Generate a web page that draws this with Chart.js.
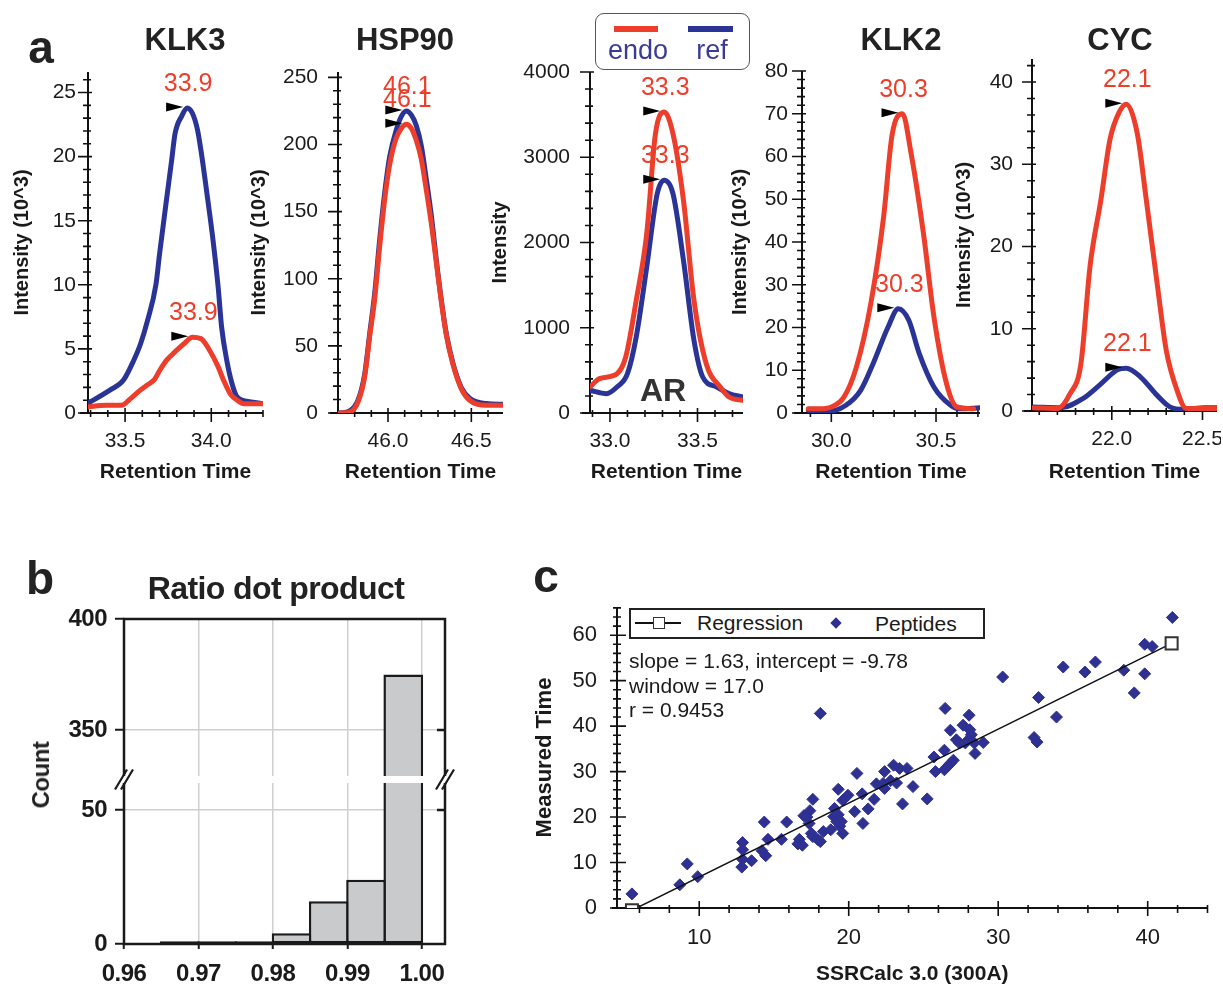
<!DOCTYPE html>
<html>
<head>
<meta charset="utf-8">
<script src="https://cdn.jsdelivr.net/npm/chart.js@4.4.1/dist/chart.umd.min.js"></script>
<style>
  body { margin: 0; background: #fff; width: 1223px; height: 987px; position: relative; overflow: hidden;
         font-family: 'Liberation Sans', Arial, Helvetica, sans-serif; color: #1a1a1a; }
  canvas { position: absolute; }
  .t { position: absolute; transform: translate(-50%, -50%); white-space: nowrap; line-height: 1; }
  .l { position: absolute; transform: translateY(-50%); white-space: nowrap; line-height: 1; }
  .box { position: absolute; box-sizing: border-box; }
</style>
</head>
<body>
<script>
const FONT = "'Liberation Sans', Arial, Helvetica, sans-serif";
const RED = 'rgb(236, 62, 42)';
const BLUE = 'rgb(42, 52, 150)';
const PEP = 'rgb(46, 49, 146)';
Chart.defaults.font.family = FONT;
Chart.defaults.color = '#1a1a1a';
Chart.defaults.animation = false;

// ---- panel a: extracted ion chromatograms (intensity vs retention time) ----
const seriesNames = ['endo', 'ref'];

const klk3EndoTime = [33.28, 33.39, 33.48, 33.53, 33.59, 33.63, 33.67, 33.70, 33.74, 33.80, 33.85, 33.89, 33.94, 33.99, 34.04, 34.07, 34.11, 34.15, 34.19, 34.31];
const klk3Endo     = [0.47, 0.6, 0.6, 1.1, 1.8, 2.2, 2.6, 3.3, 4.1, 4.9, 5.5, 5.9, 5.8, 4.9, 3.6, 2.6, 1.5, 1.0, 0.73, 0.73];
const klk3RefTime  = [33.28, 33.41, 33.49, 33.55, 33.59, 33.63, 33.68, 33.70, 33.74, 33.77, 33.79, 33.83, 33.86, 33.89, 33.92, 33.94, 33.98, 34.01, 34.04, 34.06, 34.09, 34.12, 34.15, 34.23, 34.31];
const klk3Ref      = [0.73, 1.77, 2.55, 4.1, 5.4, 7.2, 10.1, 12.4, 16.6, 19.7, 21.8, 23.2, 23.8, 23.4, 22.1, 20.5, 16.6, 13.5, 9.8, 6.7, 4.1, 2.3, 1.25, 0.86, 0.73];

const hspTime = [45.71, 45.77, 45.82, 45.86, 45.89, 45.92, 45.95, 45.98, 46.01, 46.05, 46.08, 46.11, 46.14, 46.17, 46.20, 46.23, 46.26, 46.29, 46.32, 46.35, 46.39, 46.44, 46.49, 46.59, 46.69];
const hspEndo = [0, 0.7, 8.2, 27, 57, 85, 124, 159, 185, 205, 212, 215, 212, 203, 189, 166, 141, 112, 83, 58, 36, 18, 9.5, 5.7, 5.7];
const hspRef  = [0, 1.5, 9.5, 29, 59, 89, 129, 164, 191, 211, 221, 225, 222, 214, 199, 174, 147, 114, 84, 59, 37, 19, 11, 7, 6.5];

const arEndoTime = [32.886, 32.94, 33.04, 33.09, 33.15, 33.21, 33.26, 33.31, 33.36, 33.42, 33.48, 33.55, 33.63, 33.68, 33.76];
const arEndo     = [305, 403, 461, 657, 1321, 2103, 3276, 3530, 3276, 2494, 1321, 578, 305, 188, 149];
const arRefTime  = [32.886, 32.98, 33.04, 33.10, 33.15, 33.21, 33.27, 33.31, 33.36, 33.42, 33.48, 33.53, 33.61, 33.68, 33.76];
const arRef      = [266, 227, 305, 461, 891, 1712, 2572, 2729, 2572, 1790, 852, 422, 305, 227, 188];

const klk2EndoTime = [29.89, 29.95, 30.00, 30.06, 30.12, 30.19, 30.25, 30.29, 30.34, 30.38, 30.44, 30.49, 30.55, 30.60, 30.68];
const klk2Endo     = [1, 1, 1.4, 3.7, 10.8, 26, 46, 65, 70, 61, 42, 22.5, 6.9, 1.4, 1];
const klk2RefTime  = [29.89, 30.00, 30.07, 30.14, 30.20, 30.27, 30.32, 30.37, 30.42, 30.49, 30.57, 30.61, 30.71];
const klk2Ref      = [0.6, 0.5, 1.8, 5.3, 11.6, 20, 24.4, 21.7, 13.9, 6.1, 1.8, 1, 1.2];

const cycEndoTime = [21.57, 21.70, 21.77, 21.83, 21.88, 21.94, 21.99, 22.04, 22.08, 22.14, 22.19, 22.25, 22.30, 22.36, 22.41, 22.58];
const cycEndo     = [0.4, 0.3, 2.1, 5.8, 17.6, 25.7, 33, 36.3, 37.3, 33.8, 25.7, 15.5, 7.4, 2.5, 0.3, 0.3];
const cycRefTime  = [21.57, 21.72, 21.84, 21.94, 22.03, 22.08, 22.16, 22.25, 22.32, 22.40, 22.51, 22.58];
const cycRef      = [0.5, 0.4, 1.5, 3.3, 5.0, 5.2, 4.1, 1.9, 0.5, 0.2, 0.4, 0.4];

// tick labels
const klk3XTicks = [33.5, 34.0], klk3YTicks = [0, 5, 10, 15, 20, 25];
const hspXTicks = [46.0, 46.5],  hspYTicks = [0, 50, 100, 150, 200, 250];
const arXTicks = [33.0, 33.5],   arYTicks = [0, 1000, 2000, 3000, 4000];
const klk2XTicks = [30.0, 30.5], klk2YTicks = [0, 10, 20, 30, 40, 50, 60, 70, 80];
const cycXTicks = [22.0, 22.5],  cycYTicks = [0, 10, 20, 30, 40];

// ---- panel b: histogram of ratio dot product ----
const histBinCenters = [0.9675, 0.9725, 0.9775, 0.9825, 0.9875, 0.9925, 0.9975];
const histCounts = [1, 1, 1, 4, 16, 24, 375];
const histXTicks = [0.96, 0.97, 0.98, 0.99, 1.00];
const histUpperTicks = [350, 400];
const histLowerTicks = [0, 50];

// ---- panel c: measured vs predicted retention ----
const peptideCalc = [5.5, 8.7, 9.2, 9.9, 12.9, 12.9, 12.9, 12.85, 13.5, 14.35,
  14.6, 14.2, 14.45, 15.5, 15.85, 16.7, 16.6, 16.9, 17.6, 17.4,
  17.2, 17.35, 17.6, 17.95, 18.3, 18.1, 18.1, 18.8, 19.3, 19.6,
  19.95, 19.05, 19.0, 19.3, 19.5, 19.2, 19.6, 20.4, 20.55, 20.9,
  20.95, 21.3, 21.7, 21.85, 22.3, 22.4, 22.4, 22.8, 23.2, 23.0,
  23.4, 23.9, 23.6, 24.3, 25.25, 25.7, 25.8, 26.45, 26.4, 26.4,
  26.6, 26.8, 27.0, 26.8, 27.2, 27.4, 27.65, 28.05, 28.1, 28.2,
  28.0, 27.8, 28.4, 28.45, 29.0, 30.3, 32.4, 32.6, 32.7, 33.9,
  34.35, 35.8, 36.5, 38.4, 39.1, 39.8, 39.8, 40.3, 41.65,
  17.0, 17.5, 19.4];
const peptideMeasured = [3.1, 5.1, 9.7, 6.9, 14.4, 12.8, 10.7, 9.0, 10.4, 18.9,
  15.1, 12.6, 11.5, 15.1, 18.9, 15.1, 14.1, 13.8, 23.9, 21.4,
  20.0, 18.6, 15.7, 15.0, 16.8, 14.6, 42.8, 17.2, 26.1, 23.7,
  24.8, 21.9, 20.1, 20.5, 19.0, 19.0, 16.4, 21.2, 29.6, 25.1,
  18.6, 21.8, 23.9, 27.3, 27.4, 26.3, 30.0, 28.0, 27.5, 31.4,
  30.7, 30.7, 22.9, 26.7, 24.0, 33.2, 30.0, 43.9, 34.7, 30.4,
  31.1, 31.8, 32.5, 39.1, 37.0, 36.3, 40.2, 42.4, 39.2, 38.1,
  37.0, 36.3, 36.3, 34.0, 36.4, 50.8, 37.5, 36.5, 46.3, 42.0,
  53.0, 51.9, 54.1, 52.3, 47.3, 51.5, 58.0, 57.5, 63.9,
  20.3, 16.4, 18.0];
const regressionX = [5.5, 41.6];
const regressionY = [-0.5, 58.2];
const regStats = ['slope = 1.63, intercept = -9.78', 'window = 17.0', 'r = 0.9453'];
const scatterXTicks = [10, 20, 30, 40];
const scatterYTicks = [0, 10, 20, 30, 40, 50, 60];

// ---------- helpers ----------
const pts = (xs, ys) => xs.map((x, i) => ({ x, y: ys[i] }));

function addCanvas(left, top, width, height) {
  const c = document.createElement('canvas');
  c.width = width; c.height = height;
  c.style.left = left + 'px'; c.style.top = top + 'px';
  c.style.width = width + 'px'; c.style.height = height + 'px';
  document.body.appendChild(c);
  return c;
}

function addText(text, x, y, css, cls = 't') {
  const d = document.createElement('div');
  d.className = cls;
  d.textContent = text;
  d.style.cssText = `left:${x}px;top:${y}px;${css}`;
  document.body.appendChild(d);
  return d;
}

function addBox(x, y, w, h, css) {
  const d = document.createElement('div');
  d.className = 'box';
  d.style.cssText = `left:${x}px;top:${y}px;width:${w}px;height:${h}px;${css}`;
  document.body.appendChild(d);
}

// axis lines with major/minor tick marks crossing the axis
function axisPlugin(o) {
  return {
    id: 'axisLines',
    beforeDatasetsDraw(chart) {
      const { ctx, chartArea: a, scales: { x, y } } = chart;
      const each = (from, to, s, f) => { const n = Math.round((to - from) / s); for (let i = 0; i <= n; i++) f(from + i * s); };
      const isMajor = (list, v) => list.some(m => Math.abs(m - v) < 1e-6);
      ctx.save();
      ctx.strokeStyle = '#111';
      ctx.lineWidth = 2;
      ctx.beginPath();
      ctx.moveTo(a.left, a.bottom); ctx.lineTo(a.left, a.top);
      ctx.moveTo(a.left - o.xExtend, a.bottom); ctx.lineTo(a.right, a.bottom);
      ctx.stroke();
      ctx.lineWidth = 1.6;
      ctx.beginPath();
      each(o.yFrom, o.yTo, o.yStep, v => {
        const [l, r] = isMajor(o.yMajor, v) ? o.yMajLen : o.yMinLen;
        const py = y.getPixelForValue(v);
        ctx.moveTo(a.left - l, py); ctx.lineTo(a.left + r, py);
      });
      each(o.xFrom, o.xTo, o.xStep, v => {
        const [u, d] = isMajor(o.xMajor, v) ? o.xMajLen : o.xMinLen;
        const px = x.getPixelForValue(v);
        ctx.moveTo(px, a.bottom - u); ctx.lineTo(px, a.bottom + d);
      });
      ctx.stroke();
      ctx.restore();
    }
  };
}

// black arrowhead + red retention-time label at each trace apex
const peakPlugin = {
  id: 'peaks',
  afterDatasetsDraw(chart) {
    const { ctx, scales: { x, y } } = chart;
    chart.data.datasets.forEach(ds => {
      let best = ds.data[0];
      ds.data.forEach(p => { if (p.y > best.y) best = p; });
      const px = x.getPixelForValue(best.x), py = y.getPixelForValue(best.y);
      ctx.save();
      ctx.fillStyle = '#000';
      ctx.beginPath();
      ctx.moveTo(px - 4, py - 1);
      ctx.lineTo(px - 21, py - 5.5);
      ctx.lineTo(px - 21, py + 3.5);
      ctx.closePath();
      ctx.fill();
      ctx.fillStyle = RED;
      ctx.font = '25px ' + FONT;
      ctx.textAlign = 'center';
      ctx.textBaseline = 'middle';
      ctx.fillText(best.x.toFixed(1), px + 1, py - 24);
      ctx.restore();
    });
  }
};

// ---------- panel a ----------
const panelA = [
  { title: 'KLK3', left: 10, right: 267, area: [88, 72, 263, 413], xMin: 33.285, xMax: 34.30, yMax: 26.6,
    xTicks: klk3XTicks, yTicks: klk3YTicks, xFrom: 33.3, xTo: 34.3, yStep: 1, yTo: 26, yPad: 12,
    yTitle: 'Intensity (10^3)', endoT: klk3EndoTime, endo: klk3Endo, refT: klk3RefTime, ref: klk3Ref },
  { title: 'HSP90', left: 247, right: 507, area: [338, 72, 503, 413], xMin: 45.70, xMax: 46.69, yMax: 254,
    xTicks: hspXTicks, yTicks: hspYTicks, xFrom: 45.8, xTo: 46.6, yStep: 10, yTo: 250, yPad: 20,
    yTitle: 'Intensity (10^3)', endoT: hspTime, endo: hspEndo, refT: hspTime, ref: hspRef },
  { title: null, left: 488, right: 747, area: [590, 72, 743, 413], xMin: 32.886, xMax: 33.76, yMax: 4000,
    xTicks: arXTicks, yTicks: arYTicks, xFrom: 32.9, xTo: 33.7, yStep: 200, yTo: 4000, yPad: 20,
    yTitle: 'Intensity', endoT: arEndoTime, endo: arEndo, refT: arRefTime, ref: arRef },
  { title: 'KLK2', left: 728, right: 984, area: [802, 71, 980, 413], xMin: 29.86, xMax: 30.71, yMax: 80,
    xTicks: klk2XTicks, yTicks: klk2YTicks, xFrom: 29.9, xTo: 30.7, yStep: 2, yTo: 80, yPad: 14,
    yTitle: 'Intensity (10^3)', endoT: klk2EndoTime, endo: klk2Endo, refT: klk2RefTime, ref: klk2Ref },
  { title: 'CYC', left: 952, right: 1221, area: [1032, 59, 1217, 411], xMin: 21.56, xMax: 22.58, yMax: 42.8,
    xTicks: cycXTicks, yTicks: cycYTicks, xFrom: 21.6, xTo: 22.5, yStep: 2, yTo: 42, yPad: 19,
    yTitle: 'Intensity (10^3)', endoT: cycEndoTime, endo: cycEndo, refT: cycRefTime, ref: cycRef }
];
const titleCenters = { KLK3: 185, HSP90: 405, KLK2: 901, CYC: 1120 };

const TOP = 40, BOTTOM = 485;
panelA.forEach(p => {
  const [aL, aT, aR, aB] = p.area;
  const cv = addCanvas(p.left, TOP, p.right - p.left, BOTTOM - TOP);
  const lineDs = (label, data, color) => ({
    label, data, borderColor: color, borderWidth: 5, pointRadius: 0, fill: false,
    cubicInterpolationMode: 'monotone', borderJoinStyle: 'round', borderCapStyle: 'round'
  });
  new Chart(cv, {
    type: 'line',
    data: { datasets: [
      lineDs(seriesNames[0], pts(p.endoT, p.endo), RED),
      lineDs(seriesNames[1], pts(p.refT, p.ref), BLUE)
    ] },
    options: {
      responsive: false, devicePixelRatio: 1, events: [],
      layout: { padding: { top: aT - TOP, right: p.right - aR, bottom: 0, left: 0 } },
      plugins: { legend: { display: false }, tooltip: { enabled: false } },
      scales: {
        x: {
          type: 'linear', min: p.xMin, max: p.xMax,
          afterBuildTicks: s => { s.ticks = p.xTicks.map(v => ({ value: v })); },
          afterFit: s => { s.height = BOTTOM - aB; s.paddingLeft = 0; s.paddingRight = 0; },
          grid: { display: false, drawTicks: false }, border: { display: false },
          ticks: { autoSkip: false, maxRotation: 0, padding: 16, font: { size: 21 }, callback: v => v.toFixed(1) },
          title: { display: true, text: 'Retention Time', font: { size: 21, weight: 'bold' }, padding: 0 }
        },
        y: {
          min: 0, max: p.yMax,
          afterBuildTicks: s => { s.ticks = p.yTicks.map(v => ({ value: v })); },
          afterFit: s => { s.width = aL - p.left; s.paddingTop = 0; s.paddingBottom = 0; },
          grid: { display: false, drawTicks: false }, border: { display: false },
          ticks: { autoSkip: false, padding: p.yPad, font: { size: 21 }, callback: v => String(v) },
          title: { display: true, text: p.yTitle, font: { size: 20, weight: 'bold' }, padding: 0 }
        }
      }
    },
    plugins: [axisPlugin({
      xExtend: 8, yFrom: 0, yTo: p.yTo, yStep: p.yStep, yMajor: p.yTicks, yMajLen: [10, 4], yMinLen: [5, 3],
      xFrom: p.xFrom, xTo: p.xTo, xStep: 0.1, xMajor: p.xTicks, xMajLen: [5, 9], xMinLen: [3, 4]
    }), peakPlugin]
  });
  if (p.title) addText(p.title, titleCenters[p.title], 40, 'font:bold 31px ' + FONT + ';color:#222');
});

addText('a', 41, 47, 'font:bold 46px ' + FONT + ';color:#222');
addText('AR', 663, 390, 'font:bold 32px ' + FONT + ';color:#333');

// legend for the traces
addBox(595, 13, 155, 57, 'border:1.5px solid #555;border-radius:9px;background:#fff');
addBox(614, 26, 44, 6, 'background:' + RED);
addBox(688, 26, 45, 6, 'background:' + BLUE);
addText(seriesNames[0], 638, 50, 'font:27px ' + FONT + ';color:#3b3b96');
addText(seriesNames[1], 712, 50, 'font:27px ' + FONT + ';color:#3b3b96');

// ---------- panel b ----------
const B_LEFT = 40, B_RIGHT = 455, B_AREA_L = 124, B_AREA_R = 445;
const histData = pts(histBinCenters, histCounts);
const barDs = () => ({
  data: histData, backgroundColor: '#c9cacc', borderColor: '#1a1a1a', borderWidth: 2.5,
  borderSkipped: false, barPercentage: 1.067, categoryPercentage: 1, clip: 0
});
const bFont = { size: 24, weight: 'bold' };

function framePlugin(sides, rightTicks) {
  return {
    id: 'frame',
    beforeDraw(chart) { chart.ctx.letterSpacing = '-0.5px'; },
    afterDatasetsDraw(chart) {
      const { ctx, chartArea: a, scales: { y } } = chart;
      ctx.save();
      ctx.strokeStyle = '#1a1a1a';
      ctx.lineWidth = 2.5;
      ctx.beginPath();
      if (sides === 'top') { ctx.moveTo(a.left - 1.25, a.top); ctx.lineTo(a.right + 1.25, a.top); }
      else { ctx.moveTo(a.left - 1.25, a.bottom); ctx.lineTo(a.right + 1.25, a.bottom); }
      ctx.moveTo(a.left, a.top); ctx.lineTo(a.left, a.bottom);
      ctx.moveTo(a.right, a.top); ctx.lineTo(a.right, a.bottom);
      rightTicks.forEach(v => { const py = y.getPixelForValue(v); ctx.moveTo(a.right - 8, py); ctx.lineTo(a.right, py); });
      ctx.stroke();
      ctx.restore();
    }
  };
}

const breakPlugin = {
  id: 'axisBreak',
  afterDraw(chart) {
    const { ctx, chartArea: a } = chart;
    const y0 = a.top - 3.5;
    ctx.save();
    ctx.strokeStyle = '#1a1a1a';
    ctx.lineWidth = 2.2;
    ctx.beginPath();
    [a.left, a.right].forEach(x0 => [-3, 3].forEach(o => {
      ctx.moveTo(x0 + o - 6, y0 + 10); ctx.lineTo(x0 + o + 6, y0 - 10);
    }));
    ctx.stroke();
    ctx.restore();
  }
};

function histChart(top, height, areaTop, areaBottom, yMin, yMax, yTicks, showX, extra) {
  const cv = addCanvas(B_LEFT, top, B_RIGHT - B_LEFT, height);
  return new Chart(cv, {
    type: 'bar',
    data: { datasets: [barDs()] },
    options: {
      responsive: false, devicePixelRatio: 1, events: [],
      layout: { padding: { top: areaTop - top, right: B_RIGHT - B_AREA_R, bottom: 0, left: 0 } },
      plugins: { legend: { display: false }, tooltip: { enabled: false } },
      scales: {
        x: {
          type: 'linear', min: 0.96, max: 1.0031, offset: false,
          afterBuildTicks: s => { s.ticks = histXTicks.map(v => ({ value: v })); },
          afterFit: s => { s.height = top + height - areaBottom; s.paddingLeft = 0; s.paddingRight = 0; },
          grid: { offset: false, color: '#cfcfcf', lineWidth: 1.5, drawTicks: showX, tickLength: 5, tickColor: '#1a1a1a', tickWidth: 2 },
          border: { display: false },
          ticks: { display: showX, autoSkip: false, maxRotation: 0, padding: 11, font: bFont, callback: v => v.toFixed(2) }
        },
        y: {
          min: yMin, max: yMax,
          afterBuildTicks: s => { s.ticks = yTicks.map(v => ({ value: v })); },
          afterFit: s => { s.width = B_AREA_L - B_LEFT; s.paddingTop = 0; s.paddingBottom = 0; },
          grid: { color: '#cfcfcf', lineWidth: 1.5, tickLength: 9, tickColor: '#1a1a1a', tickWidth: 2 },
          border: { display: false },
          ticks: { autoSkip: false, padding: 8, font: bFont, callback: v => String(v) }
        }
      }
    },
    plugins: extra
  });
}

// upper segment (329..400) and lower segment (0..60) of the broken count axis
histChart(600, 176, 619, 776, 329.3, 400, histUpperTicks, false, [framePlugin('top', [350])]);
histChart(765, 222, 783, 944, 0, 60.1, histLowerTicks, true, [framePlugin('bottom', [50]), breakPlugin]);

addText('b', 40, 578, 'font:bold 46px ' + FONT + ';color:#222');
addText('Ratio dot product', 276, 588, 'font:bold 32px ' + FONT + ';letter-spacing:-0.6px;color:#222');
addText('Count', 41, 775, 'font:bold 24px ' + FONT + ';letter-spacing:-0.5px;color:#222;transform:translate(-50%,-50%) rotate(-90deg)');

// ---------- panel c ----------
const C_LEFT = 532, C_TOP = 595, C_W = 686, C_H = 392;
const cCanvas = addCanvas(C_LEFT, C_TOP, C_W, C_H);
new Chart(cCanvas, {
  type: 'scatter',
  data: { datasets: [
    { type: 'line', label: 'Regression', data: pts(regressionX, regressionY), borderColor: '#111', borderWidth: 1.5,
      pointStyle: 'rect', pointRadius: 8.5, pointBackgroundColor: '#fff', pointBorderColor: '#333', pointBorderWidth: 2, fill: false },
    { label: 'Peptides', data: pts(peptideCalc, peptideMeasured), pointStyle: 'rectRot', pointRadius: 6,
      backgroundColor: PEP, borderColor: PEP, borderWidth: 1 }
  ] },
  options: {
    responsive: false, devicePixelRatio: 1, events: [],
    layout: { padding: { top: 607 - C_TOP, right: C_LEFT + C_W - 1212, bottom: 0, left: 0 } },
    plugins: { legend: { display: false }, tooltip: { enabled: false } },
    scales: {
      x: {
        type: 'linear', min: 4.5, max: 44,
        afterBuildTicks: s => { s.ticks = scatterXTicks.map(v => ({ value: v })); },
        afterFit: s => { s.height = C_TOP + C_H - 908; s.paddingLeft = 0; s.paddingRight = 0; },
        grid: { display: false, drawTicks: false }, border: { display: false },
        ticks: { autoSkip: false, maxRotation: 0, padding: 17, font: { size: 22 }, callback: v => String(v) },
        title: { display: true, text: 'SSRCalc 3.0 (300A)', font: { size: 21, weight: 'bold' }, padding: 0 }
      },
      y: {
        min: 0, max: 66.2,
        afterBuildTicks: s => { s.ticks = scatterYTicks.map(v => ({ value: v })); },
        afterFit: s => { s.width = 617 - C_LEFT; s.paddingTop = 0; s.paddingBottom = 0; },
        grid: { display: false, drawTicks: false }, border: { display: false },
        ticks: { autoSkip: false, padding: 20, font: { size: 22 }, callback: v => String(v) },
        title: { display: true, text: 'Measured Time', font: { size: 22, weight: 'bold' }, padding: 0 }
      }
    }
  },
  plugins: [axisPlugin({
    xExtend: 5, yFrom: 0, yTo: 66, yStep: 2, yMajor: scatterYTicks, yMajLen: [7, 9], yMinLen: [4, 4],
    xFrom: 6, xTo: 44, xStep: 2, xMajor: scatterXTicks, xMajLen: [7, 8], xMinLen: [3, 5]
  })]
});

addText('c', 546, 576, 'font:bold 46px ' + FONT + ';color:#222');
// legend
addBox(629, 608, 356, 31, 'border:2px solid #222;background:#fff');
addBox(635, 622, 46, 1.5, 'background:#111');
addBox(653, 617, 12, 12, 'border:1.8px solid #333;background:#fff');
addText('Regression', 697, 623, 'font:21px ' + FONT + ';color:#1a1a1a', 'l');
addBox(832, 619, 8, 8, 'background:' + PEP + ';transform:rotate(45deg)');
addText('Peptides', 875, 624, 'font:21px ' + FONT + ';color:#1a1a1a', 'l');
// regression statistics
[661, 686, 710].forEach((y, i) => addText(regStats[i], 629, y, 'font:21px ' + FONT + ';color:#1a1a1a', 'l'));
</script>
</body>
</html>
